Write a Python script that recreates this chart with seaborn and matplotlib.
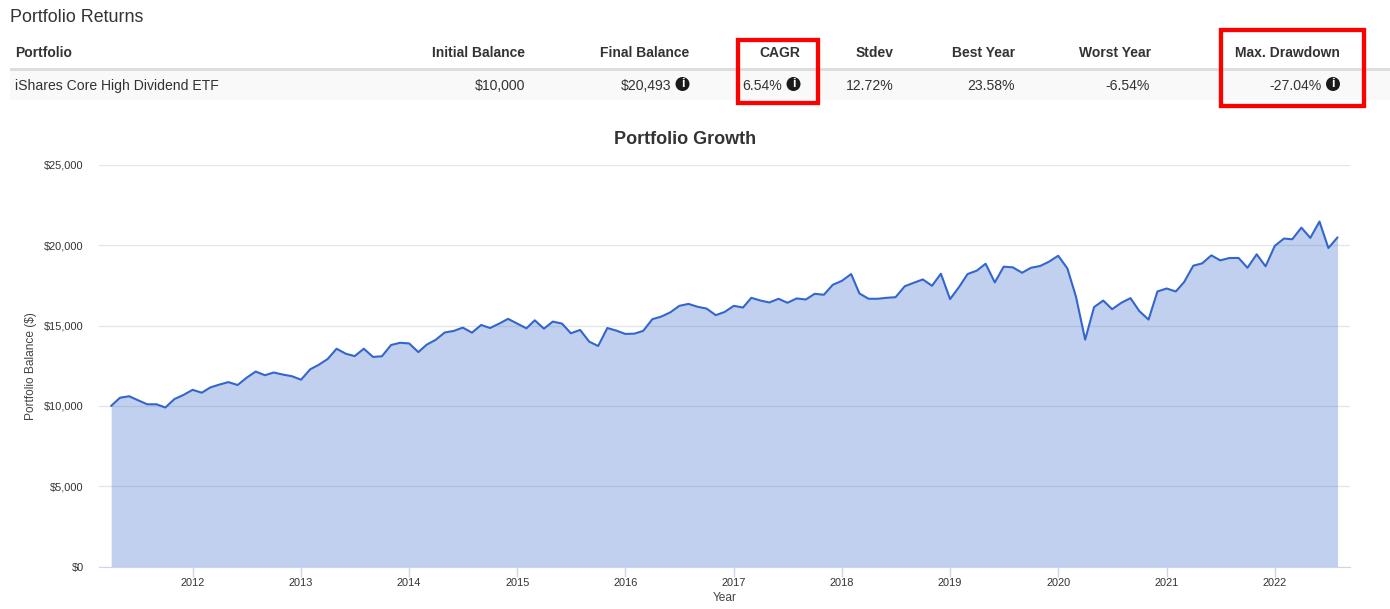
import pandas as pd
import matplotlib.pyplot as plt
import matplotlib.dates as mdates
import seaborn as sns
from matplotlib.patches import Circle, Rectangle

# monthly balances, Apr 2011 to Aug 2022
first_month = '2011-04-01'
balance = [
    10000, 10510, 10600, 10350, 10100, 10100, 9900, 10430, 10680,
    11000, 10820, 11150, 11330, 11480, 11300, 11750, 12140, 11910, 12080, 11950, 11850,
    11630, 12280, 12550, 12920, 13560, 13250, 13100, 13560, 13050, 13090, 13790, 13930,
    13890, 13350, 13810, 14120, 14570, 14670, 14875, 14560, 15040, 14850, 15125, 15420,
    15125, 14830, 15330, 14810, 15250, 15125, 14520, 14730, 14000, 13730, 14850, 14690,
    14480, 14500, 14670, 15400, 15560, 15830, 16230, 16350, 16170, 16060, 15650, 15850,
    16230, 16125, 16730, 16560, 16440, 16670, 16420, 16690, 16625, 16980, 16920, 17540,
    17790, 18210, 17000, 16670, 16670, 16730, 16770, 17450, 17670, 17875, 17480, 18230,
    16650, 17420, 18210, 18420, 18850, 17690, 18670, 18625, 18290, 18600, 18710, 18980,
    19350, 18560, 16800, 14125, 16150, 16560, 16020, 16420, 16710, 15900, 15375, 17125,
    17310, 17125, 17710, 18730, 18875, 19375, 19060, 19210, 19210, 18600, 19440, 18690,
    19960, 20420, 20375, 21100, 20460, 21480, 19830, 20493,
]

y_ticks = [0, 5000, 10000, 15000, 20000, 25000]
y_labels = ['$0', '$5,000', '$10,000', '$15,000', '$20,000', '$25,000']
years = list(range(2012, 2023))

table_headers = ['Initial Balance', 'Final Balance', 'CAGR', 'Stdev', 'Best Year', 'Worst Year', 'Max. Drawdown']
table_values = ['$10,000', '$20,493', '6.54%', '12.72%', '23.58%', '-6.54%', '-27.04%']
portfolio_name = 'iShares Core High Dividend ETF'

sns.set_style('white')
plt.rcParams['font.family'] = ['Liberation Sans', 'DejaVu Sans']

df = pd.DataFrame({'Balance': balance})
df['Year'] = pd.date_range(first_month, periods=len(balance), freq='MS')

W, H = 1390, 609
fig = plt.figure(figsize=(W / 100, H / 100), dpi=100)
ax = fig.add_axes([99 / W, 1 - 566.5 / H, 1251 / W, 401.5 / H])

# 1. Chart
ax.fill_between(df['Year'], df['Balance'], color='#3366cc', alpha=0.3, linewidth=0, zorder=2)
sns.lineplot(x='Year', y='Balance', data=df, color='#3366cc', linewidth=1.5, ax=ax, zorder=3)

ax.set_xlim(pd.Timestamp('2011-02-19'), pd.Timestamp('2022-09-12'))
ax.set_ylim(0, 25000)
ax.set_yticks(y_ticks)
ax.set_yticklabels(y_labels)
ax.set_xticks([pd.Timestamp(f'{y}-01-01') for y in years])
ax.xaxis.set_major_formatter(mdates.DateFormatter('%Y'))
ax.grid(axis='y', color='#e6e6e6', linewidth=1, zorder=1)
ax.set_axisbelow(True)
for side in ['top', 'left', 'right']:
    ax.spines[side].set_visible(False)
ax.spines['bottom'].set_color('#ccd6eb')
ax.tick_params(axis='x', length=7, width=1, color='#ccd6eb', labelsize=7.9, labelcolor='#333333', pad=1, bottom=True)
ax.tick_params(axis='y', length=0, labelsize=7.9, labelcolor='#333333', pad=11)
ax.set_xlabel('Year', fontsize=8.6, color='#444444', labelpad=3)
ax.set_ylabel('Portfolio Balance ($)', fontsize=8.6, color='#444444', labelpad=5)

# 2. Overlay in pixel coordinates for the table and the headings
ov = fig.add_axes([0, 0, 1, 1])
ov.set_xlim(0, W)
ov.set_ylim(H, 0)
ov.axis('off')
ov.patch.set_alpha(0)

ov.text(10, 17, 'Portfolio Returns', fontsize=12.9, color='#333333', va='center')
ov.text(685, 139.5, 'Portfolio Growth', fontsize=13, color='#333333', weight='bold', ha='center', va='center')

ov.add_patch(Rectangle((10, 70), 1380, 30, color='#f9f9f9', linewidth=0))
ov.add_patch(Rectangle((10, 67.5), 1380, 3, color='#dddddd', linewidth=0))

ov.text(15, 53, 'Portfolio', fontsize=10, weight='bold', color='#333333', va='center')
ov.text(15, 86, portfolio_name, fontsize=10.05, color='#333333', va='center')

header_right = [525, 689, 800, 894, 1015, 1151, 1340]
value_right = [525, 671, 782, 894, 1015, 1150, 1322]
info_x = [None, 682.5, 793.5, None, None, None, 1333]
for h, v, hx, vx, ix in zip(table_headers, table_values, header_right, value_right, info_x):
    ov.text(hx, 53, h, fontsize=10, weight='bold', color='#333333', ha='right', va='center')
    ov.text(vx, 86, v, fontsize=10.05, color='#333333', ha='right', va='center')
    if ix is not None:
        ov.add_patch(Circle((ix, 84), 7, color='#1a1a1a', linewidth=0, zorder=4))
        ov.text(ix, 84, 'i', fontsize=9, weight='bold', color='white', ha='center', va='center', zorder=5)

# red highlight boxes
ov.add_patch(Rectangle((737.5, 39.5), 80, 63.5, fill=False, edgecolor='#ff0000', linewidth=3.1, zorder=6))
ov.add_patch(Rectangle((1221, 30), 143, 75.5, fill=False, edgecolor='#ff0000', linewidth=3.1, zorder=6))

plt.savefig('out.png', dpi=100)
print("Saved out.png")
